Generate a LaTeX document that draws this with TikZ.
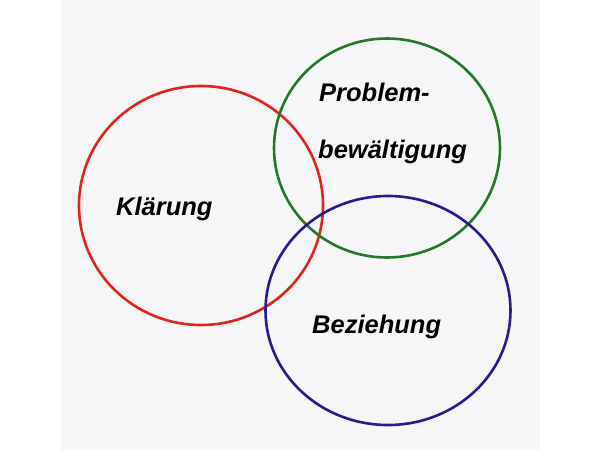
\documentclass[tikz,border=0pt]{standalone}
\usepackage{fontspec}
\setmainfont{Liberation Sans}
\definecolor{pagebg}{HTML}{F6F6F8}
\definecolor{cred}{HTML}{E0251E}
\definecolor{cgreen}{HTML}{24782A}
\definecolor{cblue}{HTML}{2A1A8E}
\begin{document}
\begin{tikzpicture}[x=1pt,y=-1pt,
  ring/.style={draw=#1,line width=2.6pt},
  lbl/.style={font=\fontsize{25.5}{25.5}\selectfont\bfseries\itshape,inner sep=0pt,anchor=base west}]
\useasboundingbox (0,0) rectangle (600,450);
\fill[white] (0,0) rectangle (600,450);
\fill[pagebg] (61,0) rectangle (540,450);
\draw[ring=cred] (201,205.5) ellipse [x radius=122, y radius=119.5];
\draw[ring=cgreen] (387,148) ellipse [x radius=113, y radius=109.5];
\draw[ring=cblue] (388,310.5) ellipse [x radius=122.5, y radius=114.5];
\node[lbl] (klaerung) at (116,215) {Klärung};
\node[lbl] (problem) at (319,101) {Problem-};
\node[lbl] (bewaelt) at (318,158) {bewältigung};
\node[lbl] (beziehung) at (312,333) {Beziehung};
\end{tikzpicture}
\end{document}
